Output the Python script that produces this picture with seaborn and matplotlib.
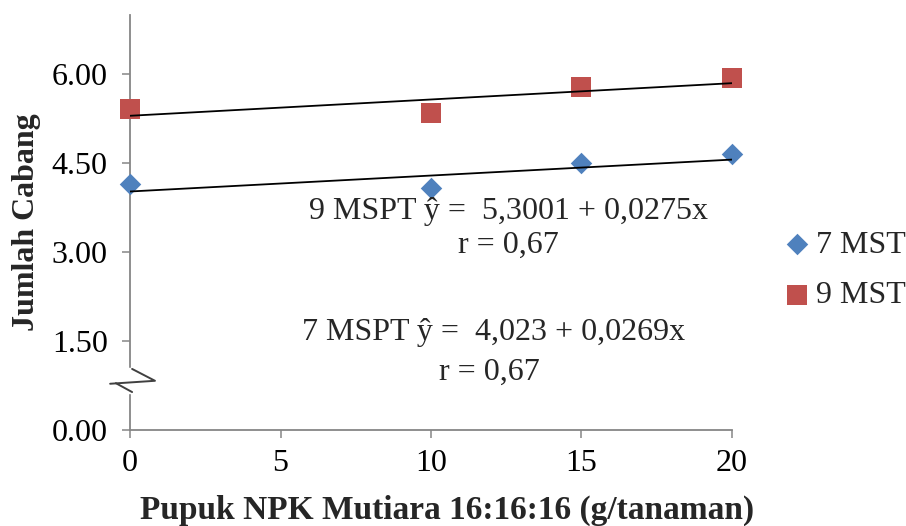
"""
Scatter + garis regresi jumlah cabang vs dosis pupuk NPK (7 dan 9 MST).
"""

import matplotlib
matplotlib.use("Agg")
import matplotlib.pyplot as plt
import seaborn as sns
import pandas as pd
import numpy as np

# data
dosis = [0, 10, 15, 20]
cabang_7mst = [4.15, 4.08, 4.51, 4.65]
cabang_9mst = [5.41, 5.35, 5.79, 5.93]

# koefisien regresi (a + b x)
reg_7 = (4.023, 0.0269)
reg_9 = (5.3001, 0.0275)

x_ticks = [0, 5, 10, 15, 20]
y_ticks = [0.0, 1.5, 3.0, 4.5, 6.0]

BLUE = "#4F81BD"
RED = "#C0504D"
GRAY = "#868686"
FS = 23

sns.set_style("white")
plt.rcParams["font.family"] = ["Liberation Serif", "DejaVu Serif"]

fig = plt.figure(figsize=(9.06, 5.26), dpi=100)
ax = fig.add_axes([130 / 906, 96 / 526, 602 / 906, 415 / 526])

df7 = pd.DataFrame({"x": dosis, "y": cabang_7mst})
df9 = pd.DataFrame({"x": dosis, "y": cabang_9mst})

# garis regresi
x_line = np.array([min(dosis), max(dosis)])
for a, b in (reg_7, reg_9):
    sns.lineplot(x=x_line, y=a + b * x_line, color="black", lw=1.3, ax=ax,
                 zorder=4)

sns.scatterplot(data=df7, x="x", y="y", marker="D", s=120, color=BLUE,
                edgecolor=BLUE, linewidth=0, label="7 MST", ax=ax,
                zorder=3, clip_on=False)
sns.scatterplot(data=df9, x="x", y="y", marker="s", s=200, color=RED,
                edgecolor=RED, linewidth=0, label="9 MST", ax=ax,
                zorder=3, clip_on=False)

ax.set_xlim(0, 20)
ax.set_ylim(0, 7)
ax.set_xticks(x_ticks)
ax.set_yticks(y_ticks)
ax.set_yticklabels([f"{v:.2f}" for v in y_ticks])

for s in ("top", "right"):
    ax.spines[s].set_visible(False)
for s in ("left", "bottom"):
    ax.spines[s].set_color(GRAY)
    ax.spines[s].set_linewidth(1.3)

ax.tick_params(axis="both", direction="out", length=6, width=1.1,
               color=GRAY, labelsize=FS, labelcolor="black")
ax.tick_params(axis="y", pad=10, left=True)
ax.tick_params(axis="x", pad=8, bottom=True)

ax.set_xlabel("Pupuk NPK Mutiara 16:16:16 (g/tanaman)", fontsize=24,
              fontweight="bold")
ax.xaxis.set_label_coords(0.527, -0.155)
ax.set_ylabel("Jumlah Cabang", fontsize=FS, fontweight="bold")
ax.yaxis.set_label_coords(-0.148, 0.5)

# persamaan regresi
ax.text(12.56, 3.68, "9 MSPT ŷ =  5,3001 + 0,0275x", ha="center",
        va="center", fontsize=FS)
ax.text(12.56, 3.12, "r = 0,67", ha="center", va="center", fontsize=FS)
ax.text(12.09, 1.64, "7 MSPT ŷ =  4,023 + 0,0269x", ha="center",
        va="center", fontsize=FS)
ax.text(11.95, 0.98, "r = 0,67", ha="center", va="center", fontsize=FS)

# simbol patah sumbu
ax.add_patch(plt.Rectangle((-0.3, 0.62), 0.6, 0.42, color="white",
                           clip_on=False, zorder=5))
ax.plot([0.07, 0.83, -0.66], [1.03, 0.83, 0.78], color="#404040", lw=1.4,
        clip_on=False, zorder=6)
ax.plot([-0.47, 0.07], [0.79, 0.64], color="#404040", lw=1.4,
        clip_on=False, zorder=6)

ax.legend(loc="center left", bbox_to_anchor=(1.06, 0.385), frameon=False,
          fontsize=FS, handlelength=0.8, handletextpad=0.2,
          labelspacing=0.65, borderpad=0)

fig.savefig("out.png", dpi=100)
